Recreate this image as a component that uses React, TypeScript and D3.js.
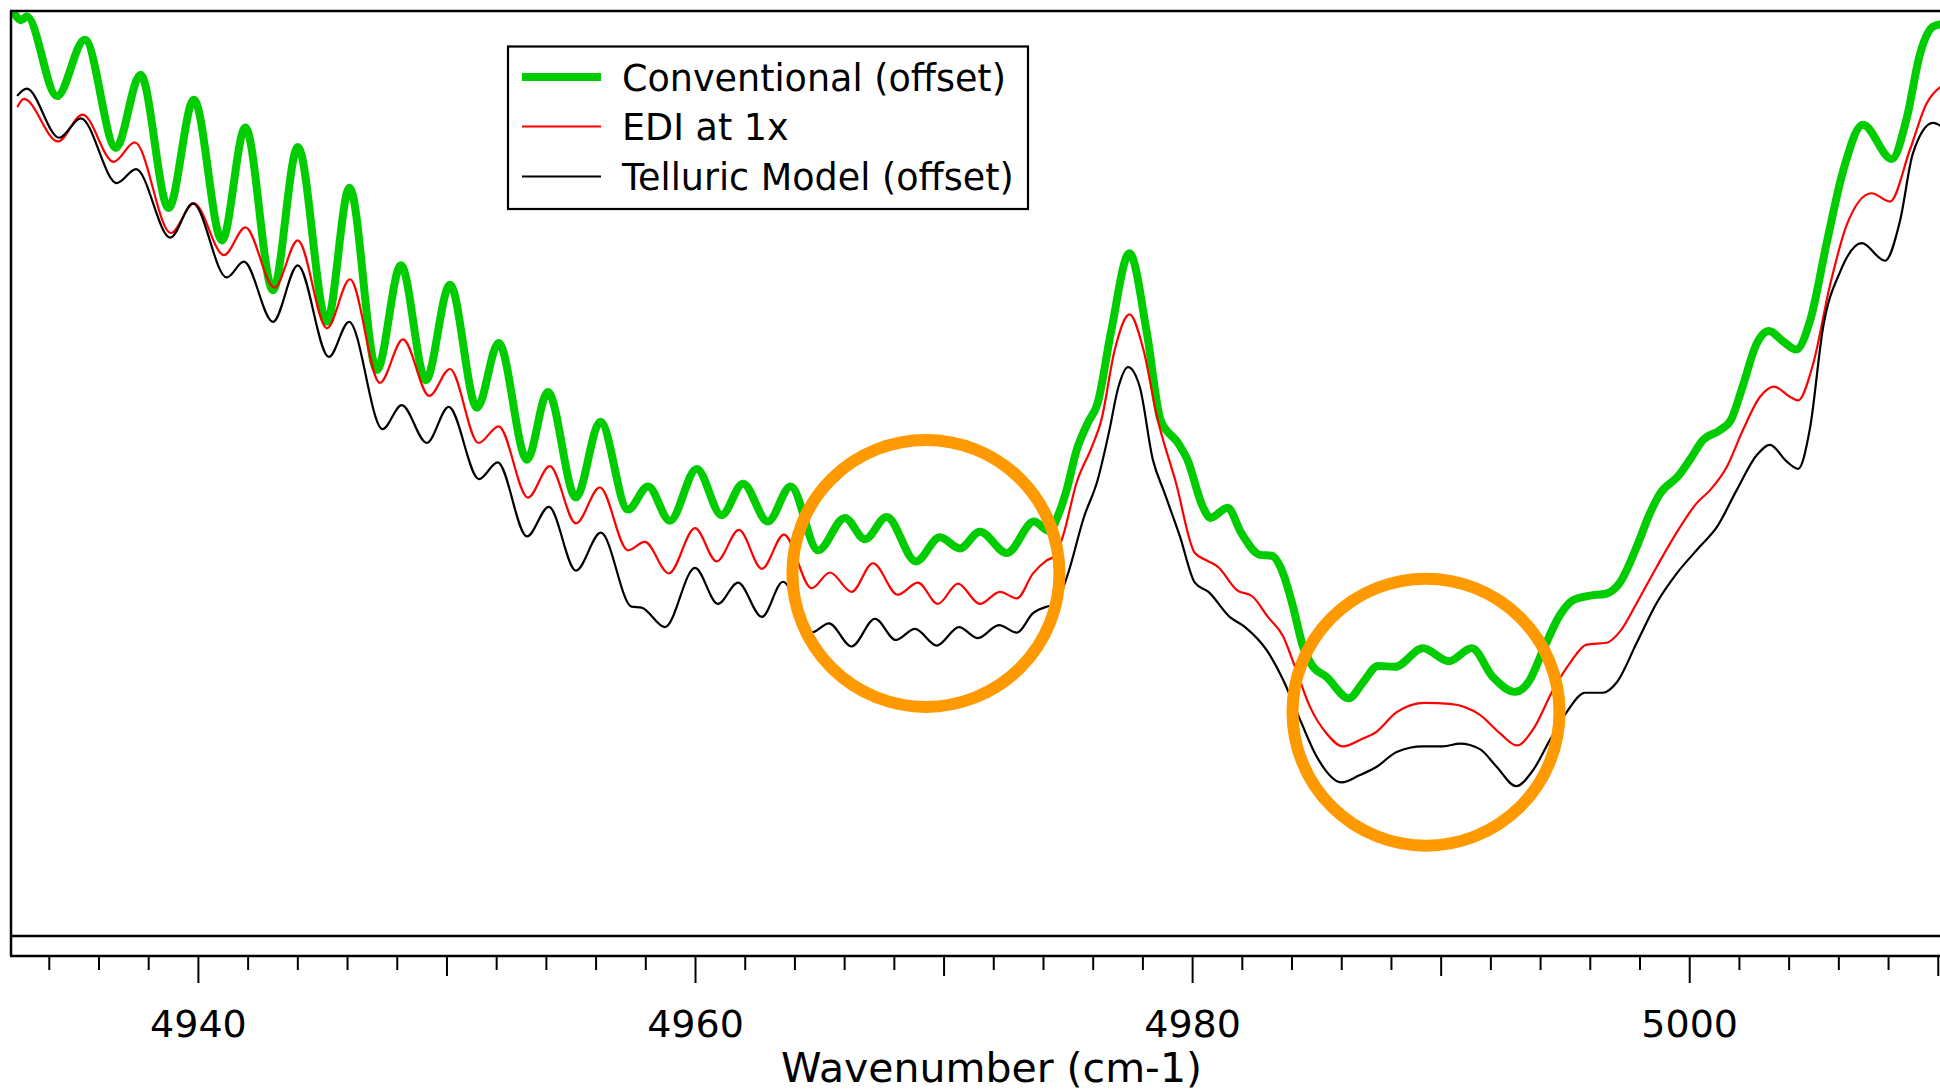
import React from "react";
import * as d3 from "d3";

// ---------- data ----------
const xDomain: [number, number] = [4932.46, 5010.07];
const yDomain: [number, number] = [0, 1];
const tickValues = d3.range(4934, 5011, 2);
const labeledTicks = [4940, 4960, 4980, 5000];
const xTitle = "Wavenumber (cm-1)";
const seriesNames = ["Conventional (offset)", "EDI at 1x", "Telluric Model (offset)"];

const conventional: [number, number][] = [
  [4932.62, 0.996], [4932.86, 0.99], [4933.1, 0.994], [4934.31, 0.908], [4935.43, 0.969],
  [4936.68, 0.852], [4937.67, 0.931], [4938.8, 0.787], [4939.82, 0.904], [4940.95, 0.752],
  [4941.89, 0.874], [4943.0, 0.698], [4944.0, 0.853], [4945.17, 0.664], [4946.08, 0.809],
  [4947.18, 0.612], [4948.15, 0.725], [4949.15, 0.601], [4950.12, 0.704], [4951.21, 0.571],
  [4952.08, 0.641], [4953.22, 0.515], [4954.06, 0.588], [4955.19, 0.474], [4956.17, 0.556],
  [4957.28, 0.461], [4958.09, 0.486], [4958.97, 0.449], [4960.05, 0.505], [4961.05, 0.455],
  [4961.91, 0.489], [4962.91, 0.448], [4963.83, 0.486], [4964.93, 0.417], [4966.01, 0.452],
  [4966.82, 0.429], [4967.69, 0.453], [4968.87, 0.405], [4969.83, 0.431], [4970.64, 0.419],
  [4971.44, 0.437], [4972.53, 0.414], [4973.62, 0.448], [4974.22, 0.438], [4974.62, 0.457],
  [4974.93, 0.482], [4975.33, 0.525], [4975.79, 0.555], [4976.18, 0.576], [4976.71, 0.652],
  [4977.46, 0.738], [4978.16, 0.652], [4978.71, 0.558], [4979.41, 0.533], [4979.79, 0.515],
  [4980.41, 0.464], [4980.72, 0.452], [4981.41, 0.463], [4981.95, 0.436], [4982.71, 0.412],
  [4983.18, 0.411], [4983.64, 0.392], [4984.04, 0.356], [4984.44, 0.313], [4984.79, 0.293],
  [4985.39, 0.28], [4986.29, 0.257], [4986.85, 0.274], [4987.46, 0.292], [4988.14, 0.291],
  [4989.27, 0.311], [4990.31, 0.297], [4991.23, 0.311], [4992.08, 0.28], [4992.97, 0.264],
  [4993.57, 0.277], [4994.1, 0.309], [4994.78, 0.347], [4995.3, 0.363], [4995.99, 0.368],
  [4996.63, 0.37], [4997.19, 0.382], [4997.87, 0.421], [4998.4, 0.457], [4998.8, 0.478],
  [4999.53, 0.497], [5000.01, 0.515], [5000.53, 0.536], [5001.22, 0.547], [5001.66, 0.558],
  [5002.14, 0.595], [5002.67, 0.639], [5003.19, 0.654], [5003.75, 0.643], [5004.28, 0.634],
  [5004.84, 0.665], [5005.51, 0.749], [5006.17, 0.827], [5006.97, 0.877], [5008.13, 0.84],
  [5008.73, 0.884], [5009.27, 0.954], [5009.79, 0.983], [5010.15, 0.986],
];

const edi: [number, number][] = [
  [4932.73, 0.897], [4932.98, 0.905], [4934.35, 0.859], [4935.34, 0.888], [4936.59, 0.837],
  [4937.44, 0.858], [4938.89, 0.76], [4939.82, 0.792], [4941.03, 0.736], [4941.89, 0.766],
  [4943.06, 0.701], [4944.0, 0.752], [4945.17, 0.657], [4946.1, 0.71], [4947.3, 0.598],
  [4948.23, 0.645], [4949.29, 0.584], [4950.12, 0.613], [4951.27, 0.533], [4952.08, 0.551],
  [4953.26, 0.474], [4954.14, 0.508], [4955.19, 0.446], [4956.15, 0.485], [4957.28, 0.417],
  [4957.96, 0.426], [4958.93, 0.392], [4959.98, 0.441], [4960.85, 0.405], [4961.75, 0.439],
  [4962.67, 0.397], [4963.56, 0.434], [4964.67, 0.376], [4965.41, 0.393], [4966.28, 0.372],
  [4967.14, 0.403], [4968.14, 0.369], [4968.95, 0.382], [4969.75, 0.359], [4970.56, 0.381],
  [4971.44, 0.359], [4972.25, 0.372], [4972.93, 0.365], [4973.58, 0.392], [4974.13, 0.406],
  [4974.46, 0.411], [4974.78, 0.432], [4975.33, 0.49], [4975.95, 0.529], [4976.33, 0.558],
  [4976.87, 0.634], [4977.46, 0.672], [4978.02, 0.634], [4978.57, 0.561], [4979.33, 0.49],
  [4980.09, 0.414], [4980.57, 0.406], [4981.02, 0.399], [4981.78, 0.374], [4982.41, 0.367],
  [4983.03, 0.345], [4983.64, 0.324], [4984.12, 0.291], [4984.72, 0.248], [4985.39, 0.219],
  [4986.05, 0.205], [4986.73, 0.212], [4987.41, 0.221], [4988.21, 0.242], [4989.35, 0.252],
  [4990.35, 0.251], [4991.56, 0.239], [4992.37, 0.219], [4993.04, 0.206], [4993.69, 0.223],
  [4994.5, 0.266], [4995.18, 0.295], [4995.85, 0.315], [4996.66, 0.317], [4997.19, 0.329],
  [4997.87, 0.36], [4998.67, 0.399], [4999.61, 0.442], [5000.28, 0.468], [5000.82, 0.482],
  [5001.49, 0.507], [5002.14, 0.547], [5002.83, 0.583], [5003.39, 0.594], [5004.03, 0.583],
  [5004.36, 0.579], [5004.96, 0.618], [5005.64, 0.703], [5006.32, 0.769], [5007.32, 0.803],
  [5008.06, 0.794], [5008.86, 0.85], [5009.53, 0.9], [5010.15, 0.919],
];

const telluric: [number, number][] = [
  [4932.73, 0.909], [4933.09, 0.916], [4934.4, 0.863], [4935.27, 0.884], [4936.72, 0.814],
  [4937.49, 0.829], [4938.87, 0.755], [4939.78, 0.792], [4941.14, 0.712], [4941.83, 0.729],
  [4943.0, 0.664], [4944.0, 0.725], [4945.25, 0.626], [4946.06, 0.664], [4947.41, 0.548],
  [4948.18, 0.574], [4949.19, 0.533], [4950.07, 0.572], [4951.29, 0.494], [4952.04, 0.512],
  [4953.22, 0.432], [4954.1, 0.464], [4955.19, 0.395], [4956.19, 0.436], [4957.43, 0.356],
  [4957.83, 0.355], [4958.77, 0.334], [4959.98, 0.398], [4960.9, 0.359], [4961.71, 0.382],
  [4962.67, 0.345], [4963.52, 0.383], [4964.67, 0.328], [4965.37, 0.338], [4966.28, 0.313],
  [4967.22, 0.343], [4968.06, 0.32], [4968.83, 0.332], [4969.71, 0.314], [4970.6, 0.334],
  [4971.36, 0.322], [4972.21, 0.336], [4972.93, 0.328], [4973.58, 0.349], [4974.13, 0.356],
  [4974.46, 0.358], [4974.94, 0.388], [4975.63, 0.453], [4976.18, 0.493], [4976.63, 0.544],
  [4977.02, 0.594], [4977.4, 0.615], [4977.87, 0.594], [4978.4, 0.515], [4978.87, 0.479],
  [4979.49, 0.432], [4980.09, 0.382], [4980.64, 0.372], [4981.49, 0.345], [4982.11, 0.334],
  [4982.98, 0.309], [4983.64, 0.277], [4984.32, 0.234], [4984.99, 0.194], [4986.0, 0.166],
  [4986.73, 0.174], [4987.41, 0.183], [4988.21, 0.199], [4989.27, 0.205], [4990.07, 0.205],
  [4990.76, 0.208], [4991.56, 0.202], [4992.23, 0.183], [4993.01, 0.162], [4993.69, 0.179],
  [4994.38, 0.212], [4995.05, 0.242], [4995.79, 0.263], [4996.51, 0.263], [4997.06, 0.274],
  [4997.87, 0.317], [4998.67, 0.36], [4999.48, 0.392], [5000.41, 0.421], [5001.09, 0.442],
  [5001.89, 0.482], [5002.7, 0.52], [5003.23, 0.531], [5003.9, 0.513], [5004.36, 0.505],
  [5004.84, 0.549], [5005.36, 0.657], [5006.05, 0.718], [5006.92, 0.749], [5007.86, 0.73],
  [5008.46, 0.773], [5008.98, 0.846], [5009.79, 0.879], [5010.15, 0.875],
];

const highlightCenters: [number, number][] = [
  [4969.27, 0.392],
  [4989.39, 0.242],
];

// ---------- styles ----------
const W = 1940;
const H = 1091;
const plotLeft = 11;
const plotRight = 1940;
const plotTop = 11;
const plotBottom = 936;
const axisY = 956;
const FONT = "'DejaVu Sans', 'Lucida Grande', sans-serif";
const seriesStyles = [
  { color: "rgb(0,204,0)", width: 8 },
  { color: "rgb(255,0,0)", width: 2.2 },
  { color: "#000000", width: 2.2 },
];
const ORANGE = "rgb(255,153,0)";

export default function App() {
  const x = d3.scaleLinear().domain(xDomain).range([plotLeft, plotRight]);
  const y = d3.scaleLinear().domain(yDomain).range([plotBottom, plotTop]);
  const line = d3
    .line<[number, number]>()
    .x((d) => x(d[0]))
    .y((d) => y(d[1]))
    .curve(d3.curveMonotoneX);

  const series = [conventional, edi, telluric];

  const legend = { x: 508, y: 46.5, w: 520, h: 162.5, rowY: [77, 126.5, 176.5] };

  return (
    <svg
      width={W}
      height={H}
      viewBox={`0 0 ${W} ${H}`}
      style={{ position: "absolute", left: 0, top: 0, background: "#fff" }}
    >
      <rect x={0} y={0} width={W} height={H} fill="#fff" />
      <defs>
        <clipPath id="plotClip">
          <rect x={plotLeft} y={plotTop} width={plotRight - plotLeft} height={plotBottom - plotTop} />
        </clipPath>
      </defs>

      {/* curves */}
      <g clipPath="url(#plotClip)" fill="none" strokeLinejoin="round" strokeLinecap="round">
        {series.map((s, i) => (
          <path key={i} d={line(s) || ""} stroke={seriesStyles[i].color} strokeWidth={seriesStyles[i].width} />
        ))}
      </g>

      {/* highlight circles */}
      {highlightCenters.map((c, i) => (
        <circle key={i} cx={x(c[0])} cy={y(c[1])} r={133.5} fill="none" stroke={ORANGE} strokeWidth={12} />
      ))}

      {/* frame */}
      <g stroke="#000" strokeWidth={2.5} fill="none">
        <line x1={plotLeft - 1} x2={plotRight} y1={plotTop} y2={plotTop} />
        <line x1={plotLeft} x2={plotLeft} y1={plotTop} y2={axisY} />
        <line x1={plotLeft} x2={plotRight} y1={plotBottom} y2={plotBottom} />
        <line x1={plotLeft - 1} x2={plotRight} y1={axisY} y2={axisY} />
      </g>

      {/* ticks */}
      <g stroke="#000" strokeWidth={2}>
        {tickValues.map((t) => {
          const len = t % 20 === 0 ? 27 : t % 10 === 0 ? 20 : 14;
          return <line key={t} x1={x(t)} x2={x(t)} y1={axisY} y2={axisY + len} />;
        })}
      </g>
      <g fontFamily={FONT} fontSize={38} textAnchor="middle" fill="#000">
        {labeledTicks.map((t) => (
          <text key={t} x={x(t)} y={1037}>
            {t}
          </text>
        ))}
      </g>
      <text x={991.5} y={1082} fontFamily={FONT} fontSize={41} textAnchor="middle" fill="#000">
        {xTitle}
      </text>

      {/* legend */}
      <g>
        <rect x={legend.x} y={legend.y} width={legend.w} height={legend.h} fill="#fff" stroke="#000" strokeWidth={2.2} />
        {seriesNames.map((name, i) => (
          <g key={name}>
            <line
              x1={522}
              x2={601}
              y1={legend.rowY[i]}
              y2={legend.rowY[i]}
              stroke={seriesStyles[i].color}
              strokeWidth={seriesStyles[i].width}
            />
            <text x={622} y={legend.rowY[i] + 13.5} fontFamily={FONT} fontSize={36.5} fill="#000">
              {name}
            </text>
          </g>
        ))}
      </g>
    </svg>
  );
}
